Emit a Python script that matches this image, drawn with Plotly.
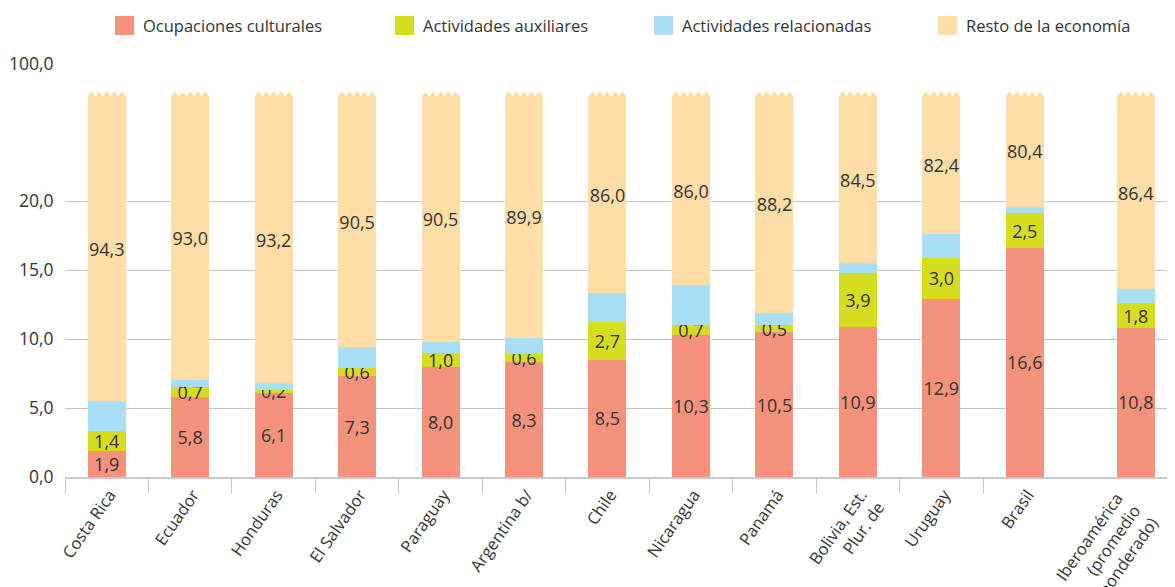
import plotly.graph_objects as go

# ---------------- data ----------------
countries = ["Costa Rica", "Ecuador", "Honduras", "El Salvador", "Paraguay",
             "Argentina b/", "Chile", "Nicaragua", "Panamá",
             "Bolivia, Est.<br>Plur. de", "Uruguay", "Brasil",
             "Iberoamérica<br>(promedio<br>ponderado)"]
ocupaciones = [1.9, 5.8, 6.1, 7.3, 8.0, 8.3, 8.5, 10.3, 10.5, 10.9, 12.9, 16.6, 10.8]
auxiliares = [1.4, 0.7, 0.2, 0.6, 1.0, 0.6, 2.7, 0.7, 0.5, 3.9, 3.0, 2.5, 1.8]
relacionadas = [2.2, 0.5, 0.5, 1.5, 0.8, 1.2, 2.1, 2.9, 0.9, 0.7, 1.7, 0.5, 1.0]
resto = [94.3, 93.0, 93.2, 90.5, 90.5, 89.9, 86.0, 86.0, 88.2, 84.5, 82.4, 80.4, 86.4]
y_tick_values = [0, 5, 10, 15, 20, 100]
series_names = ["Ocupaciones culturales", "Actividades auxiliares",
                "Actividades relacionadas", "Resto de la economía"]

# ---------------- layout / style ----------------
x_pos = [0, 1, 2, 3, 4, 5, 6, 7, 8, 9, 10, 11, 12.33]
colors = ["#F5927B", "#D5DD1E", "#A7DFF9", "#FEDEA6"]
FONT = "Open Sans"
TXT = "#333333"
BAR_W = 0.455
BREAK = 20.0          # axis is linear up to this value
BREAK_GAP = 9.93      # display units used between BREAK and 100
Y_TOP = BREAK + BREAK_GAP
CAP = 27.6            # display level where the (broken) bars are cut
TOOTH_H = 0.36
N_TEETH = 5


def disp(v):
    if v <= BREAK:
        return v
    return BREAK + (v - BREAK) * BREAK_GAP / (100 - BREAK)


def fmt(v):
    return f"{v:.1f}".replace(".", ",")


base_sum = [o + a + r for o, a, r in zip(ocupaciones, auxiliares, relacionadas)]
resto_disp = [CAP - b for b in base_sum]

fig = go.Figure()
textfont = dict(family=FONT, size=18, color=TXT)
fig.add_trace(go.Bar(x=x_pos, y=ocupaciones, name=series_names[0], marker_color=colors[0],
                     width=BAR_W, text=[fmt(v) for v in ocupaciones], textposition="inside",
                     insidetextanchor="middle", textangle=0, textfont=textfont,
                     marker_line_width=0))
fig.add_trace(go.Bar(x=x_pos, y=auxiliares, name=series_names[1], marker_color=colors[1],
                     width=BAR_W, text=[fmt(v) for v in auxiliares], textposition="inside",
                     insidetextanchor="middle", textangle=0, textfont=textfont,
                     marker_line_width=0))
fig.add_trace(go.Bar(x=x_pos, y=relacionadas, name=series_names[2], marker_color=colors[2],
                     width=BAR_W, textposition="none", marker_line_width=0))
fig.add_trace(go.Bar(x=x_pos, y=resto_disp, name=series_names[3], marker_color=colors[3],
                     width=BAR_W, text=[fmt(v) for v in resto], textposition="inside",
                     insidetextanchor="middle", textangle=0, textfont=textfont,
                     marker_line_width=0, customdata=resto,
                     hovertemplate="%{customdata:.1f}<extra></extra>"))

# serrated tops (axis-break marks)
shapes = []
for xc in x_pos:
    x0 = xc - BAR_W / 2
    tw = BAR_W / N_TEETH
    path = f"M {x0},{CAP - 0.05} L {x0},{CAP}"
    for j in range(N_TEETH):
        path += f" L {x0 + (j + 0.5) * tw},{CAP + TOOTH_H} L {x0 + (j + 1) * tw},{CAP}"
    path += f" L {x0 + BAR_W},{CAP - 0.05} Z"
    shapes.append(dict(type="path", path=path, xref="x", yref="y",
                       fillcolor=colors[3], line=dict(width=0), layer="above"))

# page geometry (the page body has an 8px margin)
OFF = 8
PL, PR, PT, PB = 65, 1175, 64, 477          # plot area in page pixels
W, H = 1175 - OFF, 587 - OFF
L, T = PL - OFF, PT - OFF
R = (OFF + W) - PR
B = (OFF + H) - PB
pw, ph = PR - PL, PB - PT


def px_x(p):
    return (p - PL) / pw


def px_y(p):
    return (PB - p) / ph


legend_x = [115, 395, 654, 938]
annotations = []
for name, col, lx in zip(series_names, colors, legend_x):
    shapes.append(dict(type="rect", xref="paper", yref="paper",
                       x0=px_x(lx), x1=px_x(lx + 19), y0=px_y(35), y1=px_y(16),
                       fillcolor=col, line=dict(width=0)))
    annotations.append(dict(text=name, xref="paper", yref="paper", x=px_x(lx + 26),
                            y=px_y(26), xanchor="left", yanchor="middle", showarrow=False,
                            font=dict(family=FONT, size=16.5, color=TXT)))

# the last (multi-line) category label is drawn as a rotated annotation
tick_text = countries[:-1] + [""]
annotations.append(dict(text=countries[-1], xref="x", yref="y", x=x_pos[-1], y=0,
                        xanchor="right", yanchor="top", xshift=30, yshift=-9,
                        textangle=-55, align="right", showarrow=False,
                        font=dict(family=FONT, size=16.5, color=TXT)))

boundaries = [i - 0.5 for i in range(12)]

fig.update_layout(
    width=W, height=H,
    margin=dict(l=L, r=R, t=T, b=B, autoexpand=False),
    barmode="stack",
    showlegend=False,
    plot_bgcolor="white", paper_bgcolor="white",
    font=dict(family=FONT, size=17, color=TXT),
    uniformtext=dict(minsize=18, mode="show"),
    shapes=shapes,
    annotations=annotations,
    xaxis=dict(range=[-0.5, 12.8], tickmode="array", tickvals=x_pos, ticktext=tick_text,
               tickangle=-55, ticks="", showgrid=False, zeroline=False,
               showline=True, linecolor="#C8C8C8", linewidth=1.5,
               ticklabelshift=3, ticklabeloverflow="allow",
               tickfont=dict(family=FONT, size=16.5, color=TXT), automargin=False,
               minor=dict(tickmode="array", tickvals=boundaries, ticks="outside",
                          ticklen=15, tickcolor="#C8C8C8", tickwidth=1.2, showgrid=False)),
    yaxis=dict(range=[0, Y_TOP], tickmode="array",
               tickvals=[disp(v) for v in y_tick_values],
               ticktext=[fmt(v) for v in y_tick_values],
               showgrid=True, gridcolor="#C4C4C4", gridwidth=1, zeroline=False,
               showline=False, ticks="outside", ticklen=7, tickcolor="rgba(0,0,0,0)",
               tickfont=dict(family=FONT, size=17.5, color=TXT), automargin=False),
)

fig.write_html("out.html")
